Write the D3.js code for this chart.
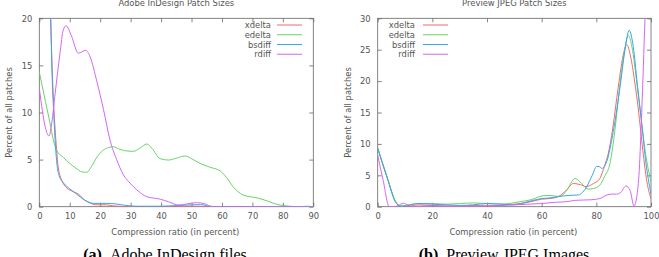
<!DOCTYPE html>
<html><head><meta charset="utf-8">
<script src="https://cdn.jsdelivr.net/npm/d3@7"></script>
<style>
html,body{margin:0;padding:0;background:#fff;}
svg{display:block;}
text{font-family:"DejaVu Sans",sans-serif;}
</style></head>
<body>
<svg id="chart" width="659" height="257"></svg>
<script>
// ---------- DATA ----------
const seriesNames = ["xdelta", "edelta", "bsdiff", "rdiff"];

// Panel (a): Adobe InDesign Patch Sizes
const adobeTitle = "Adobe InDesign Patch Sizes";
const adobeCaptionTag = "(a)";
const adobeCaption = "Adobe InDesign files";
const adobeXTicks = [0, 10, 20, 30, 40, 50, 60, 70, 80, 90];
const adobeYTicks = [0, 5, 10, 15, 20];
const adobeXdelta = [[0,60],[2,42],[3.4,24],[4,17],[4.6,11.7],[5.2,8.2],[5.7,6.0],[6.2,4.2],[7.4,2.8],[9,2.0],[11.2,1.6],[13.4,1.2],[14.5,0.8],[16.1,0.5],[17.7,0.25],[19,0.2],[22,0.2],[24,0.1],[27,0.03],[30,0],[40,0.02],[50,0.05],[55,0.02],[60,0],[70,0],[80,0],[90,0]];
const adobeEdelta = [[0,14.3],[2,11.2],[3.5,8.9],[4.6,7.1],[5.7,6.0],[8,5.2],[10,4.6],[12,4.1],[14,3.7],[15.6,3.65],[17,4.2],[19,5.3],[21,6.0],[23,6.3],[24.3,6.37],[26,6.15],[28,5.95],[30.9,5.88],[33,6.2],[35.3,6.66],[37,6.2],[39.7,5.1],[42.4,4.95],[45,5.15],[47.9,5.38],[50,5.1],[52.8,4.6],[56,4.2],[59.4,3.8],[61.5,3.1],[63.7,2.1],[67,1.24],[72,0.9],[75,0.6],[78,0.25],[82.4,0.05],[85,0.0],[88,0.05],[90,0]];
const adobeBsdiff = [[0,60],[2,40],[3.6,22],[4.2,14],[4.8,9.5],[5.3,6.5],[5.8,4.5],[6.5,3.3],[8,2.5],[10,1.9],[12,1.4],[14,0.9],[16,0.5],[18,0.35],[22,0.35],[25,0.3],[28,0.15],[32,0.05],[40,0.05],[45,0.12],[50,0.2],[53,0.22],[56,0.05],[60,0],[70,0],[80,0],[90,0]];
const adobeRdiff = [[0,12.6],[1,10.2],[2,8.4],[3.2,7.5],[4.1,8.9],[5.2,12],[6.8,16.3],[7.9,18.8],[8.8,19.2],[10.6,18.1],[12.8,16.3],[15.3,16.6],[16.7,15.9],[18.9,13.3],[21.1,10.3],[23.2,7.1],[25.4,5.0],[27.6,3.4],[29.8,2.5],[32,1.8],[35.3,1.06],[39.7,0.8],[42.4,0.53],[45.7,0.18],[48.4,0.29],[51.7,0.43],[54.4,0.3],[56.6,0.02],[60,0],[70,0],[82,0],[90,0]];

// Panel (b): Preview JPEG Patch Sizes
const jpegTitle = "Preview JPEG Patch Sizes";
const jpegCaptionTag = "(b)";
const jpegCaption = "Preview JPEG Images";
const jpegXTicks = [0, 20, 40, 60, 80, 100];
const jpegYTicks = [0, 5, 10, 15, 20, 25, 30];
const jpegXdelta = [[0,9.3],[3.3,4.9],[6.9,0.5],[8.1,0.1],[10,0],[12,0.1],[15,0.3],[20,0.2],[25,0.1],[30,0.1],[35,0.2],[40,0.1],[45,0.2],[50,0.4],[55,0.7],[60,1.2],[63,1.3],[66,1.6],[69,2.6],[71.6,3.7],[74.2,3.5],[76.2,3.2],[79,3.7],[81.3,4.5],[83,6.5],[84.4,8.5],[86,12.5],[88,19],[90,24.5],[91.1,25.8],[92.5,24],[94,20],[95.4,15.4],[97,9],[98.5,4],[100,1.2]];
const jpegEdelta = [[0,9.4],[3.3,4.9],[6.9,0.6],[8.5,0.1],[10,0.2],[15,0.5],[20,0.5],[25,0.4],[30,0.5],[35,0.6],[40,0.5],[44.7,0.43],[48,0.5],[52.1,0.8],[56,1.1],[60.6,1.75],[63,1.8],[66.7,1.6],[69,2.5],[72.2,4.5],[74.6,3.7],[77.1,2.8],[79,2.9],[81.3,3.45],[83,4.8],[85,6.9],[86.8,12.2],[88.5,19],[90,24],[91.7,27.3],[93,25.5],[95,19],[96.6,13.3],[98,8.5],[100,4]];
const jpegBsdiff = [[0,9.3],[3.3,4.8],[6.9,0.5],[8.5,0.1],[10,0.1],[13,0.4],[16,0.5],[20,0.4],[25,0.3],[30,0.2],[35,0.3],[40,0.5],[45,0.4],[50,0.3],[55,0.8],[60,1.3],[63,1.4],[66.1,1.6],[70,1.8],[73.4,1.86],[75,2.3],[76.5,3.2],[78.5,5.0],[80.1,6.4],[81,6.4],[82,6.1],[83.8,7.2],[86.2,12],[88.5,18.5],[90.5,25],[92,28.1],[93.5,25.5],[95,19.5],[96.6,13.3],[98,7.5],[100,2]];
const jpegRdiff = [[0,8.2],[2,4.2],[4.2,0],[6,0],[7.5,0.2],[9.4,0.55],[11,0.3],[13,0],[16,0.1],[20,0.15],[25,0.1],[30,0.05],[35,0.1],[40,0.15],[44.7,0.2],[50,0.3],[55,0.4],[60,0.5],[65,0.7],[69.2,0.8],[72,1.0],[75.2,1.06],[78,1.1],[81.3,1.3],[83.8,1.86],[85.5,2.0],[87.4,2.0],[89,2.3],[90.8,3.3],[92.3,2.66],[93.8,0.1],[94.8,1.6],[95.7,5.8],[96.6,15],[97.8,30],[99,45],[100,55]];

const xLabel = "Compression ratio (in percent)";
const yLabel = "Percent of all patches";

// ---------- DRAWING ----------
const colors = ["#f26a6a", "#66d466", "#3aa4ec", "#d466f2"];
const svg = d3.select("#chart");
const textColor = "#555";
const borderColor = "#666";

const panels = [
  {id:"a", title:adobeTitle, tag:adobeCaptionTag, caption:adobeCaption, xDomain:[0,90], yDomain:[0,20],
   xTicks:adobeXTicks, yTicks:adobeYTicks, data:[adobeXdelta, adobeEdelta, adobeBsdiff, adobeRdiff],
   left:39.3, right:313.3, legendRight:true, capX:165},
  {id:"b", title:jpegTitle, tag:jpegCaptionTag, caption:jpegCaption, xDomain:[0,100], yDomain:[0,30],
   xTicks:jpegXTicks, yTicks:jpegYTicks, data:[jpegXdelta, jpegEdelta, jpegBsdiff, jpegRdiff],
   left:377.7, right:651, legendRight:false, capX:504}
];
const plotTop = 18.3, plotBottom = 206.7;

panels.forEach(p => {
  const x = d3.scaleLinear().domain(p.xDomain).range([p.left, p.right]);
  const y = d3.scaleLinear().domain(p.yDomain).range([plotBottom, plotTop]);
  const g = svg.append("g");
  const fs = 8.4;

  g.append("clipPath").attr("id", "clip-" + p.id)
    .append("rect").attr("x", p.left).attr("y", plotTop)
    .attr("width", p.right - p.left).attr("height", plotBottom - plotTop);

  const styleAxis = sel => {
    sel.select(".domain").remove();
    sel.selectAll(".tick line").attr("stroke", borderColor).attr("stroke-width", 0.8);
    sel.selectAll(".tick text").attr("fill", textColor).style("font-size", fs + "px")
      .style("font-family", '"DejaVu Sans",sans-serif');
  };

  g.append("g").attr("transform", `translate(0,${plotBottom})`)
    .call(d3.axisBottom(x).tickValues(p.xTicks).tickSize(-4).tickPadding(6).tickFormat(d3.format("d")))
    .call(styleAxis);
  g.append("g").attr("transform", `translate(0,${plotTop})`)
    .call(d3.axisTop(x).tickValues(p.xTicks).tickSize(-4).tickFormat(""))
    .call(styleAxis);
  g.append("g").attr("transform", `translate(${p.left},0)`)
    .call(d3.axisLeft(y).tickValues(p.yTicks).tickSize(-4).tickPadding(7).tickFormat(d3.format("d")))
    .call(styleAxis);
  g.append("g").attr("transform", `translate(${p.right},0)`)
    .call(d3.axisRight(y).tickValues(p.yTicks).tickSize(-4).tickFormat(""))
    .call(styleAxis);

  g.append("rect").attr("x", p.left).attr("y", plotTop)
    .attr("width", p.right - p.left).attr("height", plotBottom - plotTop)
    .attr("fill", "none").attr("stroke", borderColor).attr("stroke-width", 0.8);

  const line = d3.line().x(d => x(d[0])).y(d => y(d[1])).curve(d3.curveMonotoneX);
  const lg = g.append("g").attr("clip-path", `url(#clip-${p.id})`);
  p.data.forEach((s, i) => {
    lg.append("path").datum(s).attr("d", line)
      .attr("fill", "none").attr("stroke", colors[i]).attr("stroke-width", 1);
  });

  const textRight = p.legendRight ? 271 : 415;
  const lineX0 = p.legendRight ? 277 : 423;
  const lineX1 = p.legendRight ? 302 : 448;
  seriesNames.forEach((n, i) => {
    const yy = 25 + i * 9.75;
    g.append("text").attr("x", textRight).attr("y", yy + 3).attr("text-anchor", "end")
      .attr("fill", textColor).style("font-size", fs + "px").text(n);
    g.append("line").attr("x1", lineX0).attr("x2", lineX1).attr("y1", yy).attr("y2", yy)
      .attr("stroke", colors[i]).attr("stroke-width", 1);
  });

  const cx = (p.left + p.right) / 2;
  g.append("text").attr("x", cx).attr("y", 6).attr("text-anchor", "middle")
    .attr("fill", textColor).style("font-size", fs + "px").text(p.title);
  g.append("text").attr("x", cx - 1).attr("y", 234.5).attr("text-anchor", "middle")
    .attr("fill", textColor).style("font-size", fs + "px").text(xLabel);
  const ylx = p.left - 27;
  g.append("text").attr("transform", `translate(${ylx},${(plotTop + plotBottom) / 2}) rotate(-90)`)
    .attr("text-anchor", "middle").attr("fill", textColor).style("font-size", fs + "px").text(yLabel);
  const cap = g.append("text").attr("x", p.capX).attr("y", 260).attr("text-anchor", "middle")
    .attr("fill", "#000").style("font-family", '"Liberation Serif","DejaVu Serif",serif').style("font-size", "16px");
  cap.append("tspan").style("font-weight", "bold").text(p.tag);
  cap.append("tspan").text("\u2002" + p.caption);
});
</script>
</body></html>
